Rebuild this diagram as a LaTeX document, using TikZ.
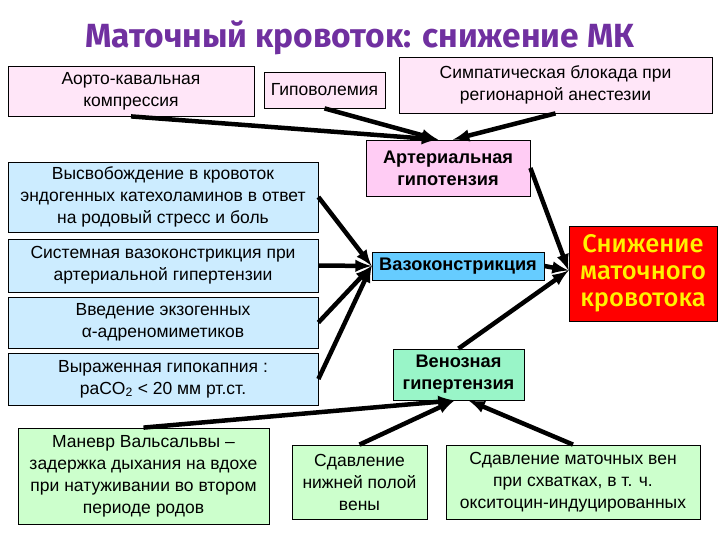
\documentclass[tikz,border=0pt]{standalone}
\usepackage{fontspec}
\setmainfont{Liberation Sans}
\newfontfamily\titlefont{Fira Sans}
\newfontfamily\titlefontsb{Fira Sans Medium}
\usepackage{xcolor}
\usetikzlibrary{arrows}

\definecolor{pinkbox}{HTML}{FFE6F8}
\definecolor{pinkdark}{HTML}{FFCCF4}
\definecolor{bluebox}{HTML}{CCECFF}
\definecolor{bluedark}{HTML}{66CCFF}
\definecolor{greenbox}{HTML}{CCFFCC}
\definecolor{mintbox}{HTML}{99F5C8}
\definecolor{titlepurple}{HTML}{7030A0}

\begin{document}
\begin{tikzpicture}[x=1pt,y=-1pt,
  box/.style={draw=black, line width=0.8pt, align=center, inner sep=1pt,
    font=\fontsize{17.5}{22}\selectfont},
  boldbox/.style={box, font=\fontsize{18.2}{22}\selectfont\bfseries},
  arr/.style={-latex, line width=4.5pt}]
\useasboundingbox (0,0) rectangle (720,540);

\node[text=titlepurple, font=\titlefont\fontsize{33.5}{38}\selectfont\bfseries] (title) at (360,38) {Маточный кровоток: снижение МК};

% top row
\node[box, fill=pinkbox, minimum width=246, minimum height=50] (aorta) at (131,91) {Аорто-кавальная\\компрессия};
\node[box, fill=pinkbox, minimum width=121, minimum height=36] (hypovol) at (324.5,90) {Гиповолемия};
\node[box, fill=pinkbox, minimum width=313, minimum height=56] (symp) at (555.5,85) {Симпатическая блокада при\\регионарной анестезии};
\node[boldbox, fill=pinkdark, minimum width=164, minimum height=56] (arthyp) at (448,168) {Артериальная\\гипотензия};

% left column
\node[box, fill=bluebox, minimum width=310, minimum height=70] (catech) at (163,197) {Высвобождение в кровоток\\эндогенных катехоламинов в ответ\\на родовый стресс и боль};
\node[box, fill=bluebox, minimum width=310, minimum height=53] (syst) at (163,265.5) {Системная вазоконстрикция при\\артериальной гипертензии};
\node[box, fill=bluebox, minimum width=310, minimum height=51] (alpha) at (163,322.5) {Введение экзогенных\\α-адреномиметиков};
\node[box, fill=bluebox, minimum width=310, minimum height=52] (hypocap) at (163,379) {Выраженная гипокапния :\\paCO\textsubscript{2} < 20 мм рт.ст.};
\node[boldbox, fill=bluedark, minimum width=172, minimum height=28] (vasocon) at (458,266) {Вазоконстрикция};

\node[draw=black, line width=0.8pt, fill=red, text=yellow, align=center, minimum width=148, minimum height=95,
  font=\titlefontsb\fontsize{25.5}{27}\selectfont] (flow) at (643,273.5) {Снижение\\маточного\\кровотока};

% venous part
\node[boldbox, fill=mintbox, minimum width=131, minimum height=51] (venous) at (458.5,374.5) {Венозная\\гипертензия};
\node[box, fill=greenbox, minimum width=251, minimum height=96] (valsalva) at (143.5,476) {Маневр Вальсальвы --\\задержка дыхания на вдохе\\при натуживании во втором\\периоде родов};
\node[box, fill=greenbox, minimum width=135, minimum height=74] (ivc) at (359.5,482) {Сдавление\\нижней полой\\вены};
\node[box, fill=greenbox, minimum width=254, minimum height=74] (uterveins) at (573,482) {Сдавление маточных вен\\при схватках, в т. ч.\\окситоцин-индуцированных};

\draw[arr] (aorta.south) -- ([xshift=-10]arthyp.north);
\draw[arr] (hypovol.south) -- ([xshift=-10]arthyp.north);
\draw[arr] (symp.south) -- ([xshift=5]arthyp.north);

\draw[arr] (catech.east) -- (vasocon.west);
\draw[arr] (syst.east) -- (vasocon.west);
\draw[arr] (alpha.east) -- (vasocon.west);
\draw[arr] (hypocap.east) -- (vasocon.west);

\draw[arr] (arthyp.east) -- ([yshift=3]flow.west);
\draw[arr] (vasocon.east) -- ([yshift=3]flow.west);
\draw[arr] (venous.north) -- ([yshift=3]flow.west);

\draw[arr] (valsalva.north) -- ([xshift=-4]venous.south);
\draw[arr] (ivc.north) -- ([xshift=-4]venous.south);
\draw[arr] (uterveins.north) -- ([xshift=10]venous.south);
\end{tikzpicture}
\end{document}
